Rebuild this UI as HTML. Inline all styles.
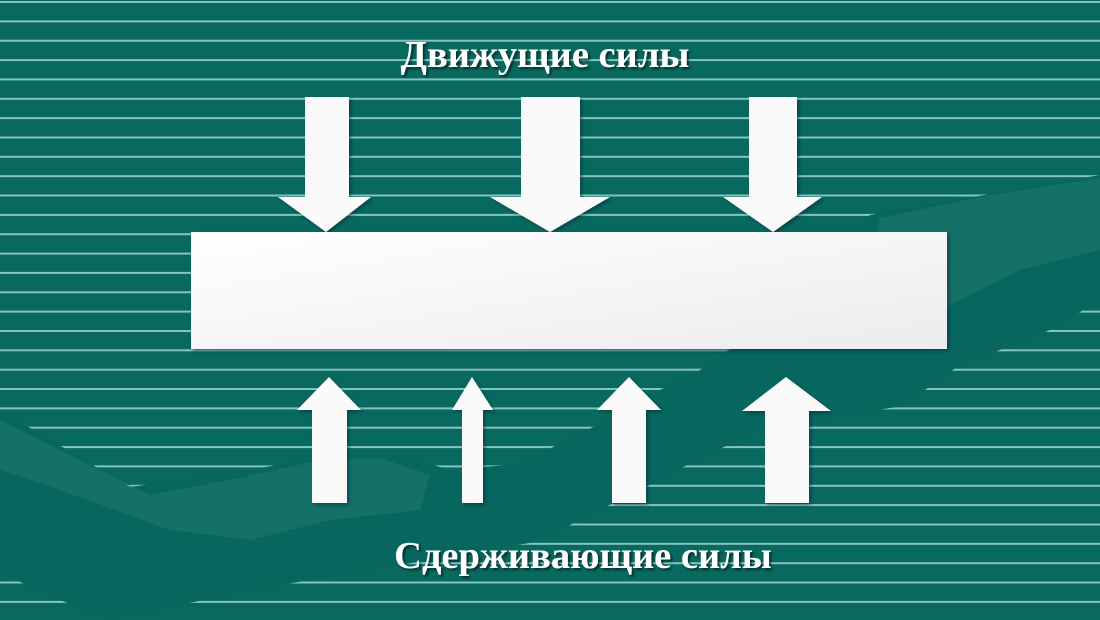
<!DOCTYPE html>
<html><head><meta charset="utf-8"><style>
html,body{margin:0;padding:0;width:1100px;height:620px;overflow:hidden;background:#08695f}
svg{display:block}
text{font-family:"Liberation Serif",serif;font-weight:bold;font-size:38.5px;fill:#fff}
</style></head><body>
<svg width="1100" height="620" viewBox="0 0 1100 620">
<defs>
<filter id="sh" x="-10%" y="-10%" width="120%" height="130%"><feDropShadow dx="2" dy="2" stdDeviation="1" flood-color="#022" flood-opacity="0.8"/></filter>
<filter id="ash" x="-10%" y="-10%" width="130%" height="130%"><feDropShadow dx="2" dy="2" stdDeviation="1.5" flood-color="#023" flood-opacity="0.5"/></filter>
<linearGradient id="boxg" x1="0" y1="0" x2="1" y2="1"><stop offset="0" stop-color="#ffffff"/><stop offset="1" stop-color="#ececec"/></linearGradient>
</defs>
<rect width="1100" height="620" fill="#08695f"/>
<g id="stripes"></g>
<polygon fill="#07675e" points="0,410 130,487 250,470 330,455 400,455 450,470 519,464 557,445 595,426 640,400 700,370 800,300 870,215 1100,175 1100,300 1050,330 957,367 903,406 770,426 728,445 689,464 651,484 574,523 535,542 400,565 250,590 110,620 60,600 20,582 0,572"/>
<polygon fill="#2a7f77" opacity="0.4" points="0,420 150,495 240,478 320,460 380,458 430,475 420,510 330,520 250,540 170,530 60,490 0,470"/>
<polygon fill="#2a7f77" opacity="0.4" points="880,218 990,195 1100,178 1100,250 1020,270 960,300 900,330 850,345"/>
<g filter="url(#ash)" fill="#fafafa">
<polygon points="305,97 349,97 349,197 371,197 326,232 278,197 305,197"/>
<polygon points="521,97 580,97 580,197 610,197 550,232 490,197 521,197"/>
<polygon points="749,97 797,97 797,197 822,197 773,232 723,197 749,197"/>
<rect x="191" y="232" width="756" height="117" fill="url(#boxg)"/>
<polygon points="329,377 361,410 347,410 347,503 312,503 312,410 297,410"/>
<polygon points="472,377 493,410 483,410 483,503 462,503 462,410 452,410"/>
<polygon points="629,377 661,410 646,410 646,503 612,503 612,410 597,410"/>
<polygon points="786,377 831,411 809,411 809,503 765,503 765,411 742,411"/>
</g>
<text x="545" y="67" text-anchor="middle" filter="url(#sh)">Движущие силы</text>
<text x="583" y="568" text-anchor="middle" filter="url(#sh)">Сдерживающие силы</text>
</svg>
<script>
var g=document.getElementById('stripes');
for(var i=0;i<33;i++){
  var y=1+i*19.35;
  var r=document.createElementNS('http://www.w3.org/2000/svg','rect');
  r.setAttribute('x',0);r.setAttribute('y',y.toFixed(1));r.setAttribute('width',1100);r.setAttribute('height',2);
  r.setAttribute('fill','#86c4c2');
  
  
  g.appendChild(r);
}
</script>
</body></html>
